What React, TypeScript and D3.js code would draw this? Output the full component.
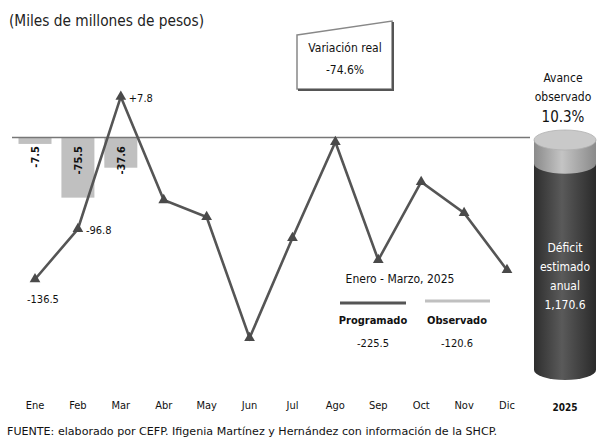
import React from "react";
import * as d3 from "d3";

const months = ["Ene", "Feb", "Mar", "Abr", "May", "Jun", "Jul", "Ago", "Sep", "Oct", "Nov", "Dic"];
const programado = [-136.5, -96.8, 7.8, -73.9, -87.3, -182.9, -103.9, -28.0, -121.3, -59.6, -84.1, -129.2];
const labeledMonths = ["Ene", "Feb", "Mar"];
const observadoMonths = ["Ene", "Feb", "Mar"];
const observado = [-7.5, -75.5, -37.6];
const deficitAnual = 1170.6;
const variacionReal = "-74.6%";
const periodo = "Enero - Marzo, 2025";
const year = "2025";

const FONT = "'Liberation Sans Narrow', 'DejaVu Sans Condensed', 'Arial Narrow', sans-serif";

export default function App() {
  const x = d3.scalePoint<string>().domain(months).range([35, 507]);
  const yLine = d3.scaleLinear().domain([-200, 20]).range([359.6, 81.2]);
  const yBar = d3.scaleLinear().domain([-100, 0]).range([217, 138]);
  const barW = 33;

  const line = d3
    .line<number>()
    .x((_, i) => x(months[i]) as number)
    .y((d) => yLine(d));
  const tri = d3.symbol(d3.symbolTriangle, 50)() as string;

  const progTotal = d3.sum(programado.slice(0, 3));
  const obsTotal = d3.sum(observado);
  const avance = (-obsTotal / deficitAnual) * 100;
  const fmt = (v: number) => (v > 0 ? "+" : "") + v.toFixed(1);

  // cylinder
  const cx = 565, rx = 31, ry = 10;
  const cyl = d3.scaleLinear().domain([0, deficitAnual]).range([140, 370]);
  const yTop = cyl(0);
  const ySplit = cyl(-obsTotal);
  const yBot = cyl(deficitAnual);

  return (
    <svg width={598} height={439} style={{ position: "absolute", left: 0, top: 0, background: "#fff" }} fontFamily={FONT}>
      <defs>
        <linearGradient id="gDark" x1="0" x2="1" y1="0" y2="0">
          <stop offset="0" stopColor="#2e2e2e" />
          <stop offset="0.45" stopColor="#5a5a5a" />
          <stop offset="1" stopColor="#2a2a2a" />
        </linearGradient>
        <linearGradient id="gLight" x1="0" x2="1" y1="0" y2="0">
          <stop offset="0" stopColor="#8a8a8a" />
          <stop offset="0.45" stopColor="#c4c4c4" />
          <stop offset="1" stopColor="#8a8a8a" />
        </linearGradient>
      </defs>

      <text x={9} y={26} fontSize={16} fill="#222" textLength={195} lengthAdjust="spacingAndGlyphs">
        (Miles de millones de pesos)
      </text>

      {/* bars */}
      {observado.map((v, i) => {
        const m = observadoMonths[i];
        const cxm = x(m) as number;
        return (
          <rect key={m} x={cxm - barW / 2} y={yBar(0)} width={barW} height={yBar(v) - yBar(0)} fill="#c0c0c0" />
        );
      })}
      {observado.map((v, i) => {
        const cxm = x(observadoMonths[i]) as number;
        return (
          <text key={"bl" + i} transform={`translate(${cxm + 4},146) rotate(-90)`} textAnchor="end" fontSize={11} fontWeight="bold" fill="#111">
            {v.toFixed(1)}
          </text>
        );
      })}

      {/* zero line */}
      <line x1={12} x2={530} y1={137.5} y2={137.5} stroke="#777" strokeWidth={1.6} />

      {/* programmed line */}
      <path d={line(programado) as string} fill="none" stroke="#555" strokeWidth={2.6} />
      {programado.map((v, i) => (
        <path key={"t" + i} d={tri} transform={`translate(${x(months[i])},${yLine(v)})`} fill="#4a4a4a" />
      ))}
      {labeledMonths.map((m, i) => {
        const idx = months.indexOf(m);
        const v = programado[idx];
        const px = x(m) as number;
        const py = yLine(v);
        if (i === 0)
          return <text key={m} x={px - 8} y={py + 24} fontSize={11} fill="#111">{fmt(v)}</text>;
        return <text key={m} x={px + 8} y={py + 5} fontSize={11} fill="#111">{fmt(v)}</text>;
      })}

      {/* variación real box */}
      <path d="M297,35 L392,21 L392,89 L297,89 Z" fill="#fff" stroke="#888" strokeWidth={1.5} />
      <path d="M393,22 L393,90 L298,90" fill="none" stroke="#555" strokeWidth={2} />
      <text x={345} y={52} textAnchor="middle" fontSize={12} fill="#111">Variación real</text>
      <text x={345} y={74} textAnchor="middle" fontSize={12} fill="#111">{variacionReal}</text>

      {/* legend */}
      <text x={400} y={283} textAnchor="middle" fontSize={12} fill="#111">{periodo}</text>
      <line x1={340} x2={406} y1={303} y2={303} stroke="#555" strokeWidth={3} />
      <line x1={425} x2={490} y1={301} y2={301} stroke="#c0c0c0" strokeWidth={3} />
      <text x={373} y={324} textAnchor="middle" fontSize={11} fontWeight="bold" fill="#111">Programado</text>
      <text x={457} y={324} textAnchor="middle" fontSize={11} fontWeight="bold" fill="#111">Observado</text>
      <text x={373} y={347} textAnchor="middle" fontSize={11} fill="#111">{progTotal.toFixed(1)}</text>
      <text x={457} y={347} textAnchor="middle" fontSize={11} fill="#111">{obsTotal.toFixed(1)}</text>

      {/* avance */}
      <text x={cx - 2} y={82} textAnchor="middle" fontSize={12} fill="#111">Avance</text>
      <text x={cx - 2} y={101} textAnchor="middle" fontSize={12} fill="#111">observado</text>
      <text x={cx - 2} y={122} textAnchor="middle" fontSize={15} fill="#111">{avance.toFixed(1)}%</text>

      {/* cylinder */}
      <path
        d={`M${cx - rx},${ySplit} L${cx - rx},${yBot} A${rx},${ry} 0 0 0 ${cx + rx},${yBot} L${cx + rx},${ySplit} Z`}
        fill="url(#gDark)"
      />
      <path
        d={`M${cx - rx},${yTop} L${cx - rx},${ySplit} A${rx},${ry} 0 0 0 ${cx + rx},${ySplit} L${cx + rx},${yTop} Z`}
        fill="url(#gLight)"
      />
      <ellipse cx={cx} cy={yTop} rx={rx} ry={ry} fill="#c9c9c9" stroke="#b0b0b0" strokeWidth={0.8} />
      {["Déficit", "estimado", "anual", d3.format(",.1f")(deficitAnual)].map((t, i) => (
        <text key={t} x={cx} y={252 + i * 19} textAnchor="middle" fontSize={12} fill="#fff">{t}</text>
      ))}

      {/* month axis labels */}
      {months.map((m) => (
        <text key={m} x={x(m)} y={409} textAnchor="middle" fontSize={11} fill="#111">{m}</text>
      ))}
      <text x={cx} y={411} textAnchor="middle" fontSize={10} fontWeight="bold" fill="#111">{year}</text>

      <text x={7} y={435} fontSize={11} fill="#111" textLength={490} lengthAdjust="spacingAndGlyphs">
        FUENTE: elaborado por CEFP. Ifigenia Martínez y Hernández con información de la SHCP.
      </text>
    </svg>
  );
}
